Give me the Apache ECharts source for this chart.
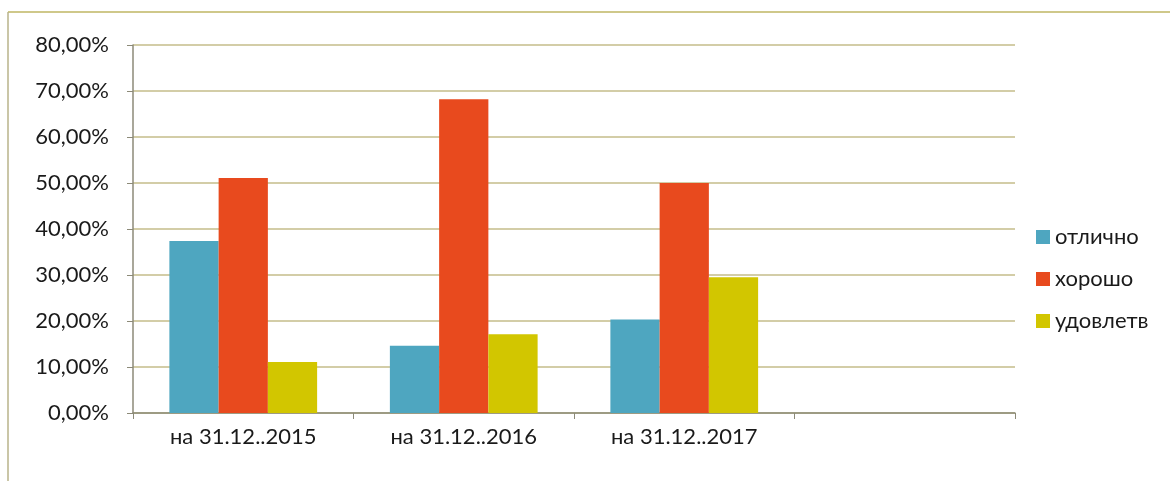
<!DOCTYPE html>
<html><head><meta charset="utf-8">
<script src="https://cdn.jsdelivr.net/npm/echarts@6/dist/echarts.min.js"></script>
<style>html,body{margin:0;padding:0;background:#fff}#c{width:1170px;height:481px}</style>
</head><body><div id="c"></div>
<script>
const categories = ['на 31.12..2015', 'на 31.12..2016', 'на 31.12..2017', ''];
const otlichno = [37.4, 14.6, 20.3, null];
const horosho = [51.1, 68.2, 50.0, null];
const udovletv = [11.1, 17.1, 29.5, null];
const seriesNames = ['отлично', 'хорошо', 'удовлетв'];
const colors = ['#4ea6c0', '#e84a1e', '#d2c600'];

const chart = echarts.init(document.getElementById('c'));
const font = 'Lato, "Open Sans", sans-serif';
const mk = (name, data, color) => ({
  name, type: 'bar', data, barGap: '0%', barCategoryGap: '33%',
  itemStyle: { color }
});
chart.setOption({
  animation: false,
  textStyle: { fontFamily: font },
  grid: { left: 133, right: 155, top: 45, bottom: 68, containLabel: false },
  legend: {
    orient: 'vertical', left: 1031, top: 221, itemGap: 20,
    itemWidth: 14, itemHeight: 14, icon: 'rect',
    textStyle: { fontSize: 22, color: '#1a1a1a', fontFamily: font },
    data: seriesNames
  },
  xAxis: {
    type: 'category', data: categories,
    axisLine: { lineStyle: { color: '#8c8a78', width: 1.5 } },
    axisTick: { show: true, length: 6, lineStyle: { color: '#8c8a78' } },
    axisLabel: { fontSize: 22, color: '#1a1a1a', margin: 13, fontFamily: font }
  },
  yAxis: {
    type: 'value', min: 0, max: 80, interval: 10,
    axisLine: { show: true, lineStyle: { color: '#8c8a78', width: 1.5 } },
    axisTick: { show: true, length: 6, lineStyle: { color: '#8c8a78' } },
    splitLine: { lineStyle: { color: '#c4bd8a', width: 1.5 } },
    axisLabel: {
      fontSize: 22, color: '#1a1a1a', margin: 24, fontFamily: font,
      formatter: v => v.toFixed(2).replace('.', ',') + '%'
    }
  },
  series: [
    mk(seriesNames[0], otlichno, colors[0]),
    mk(seriesNames[1], horosho, colors[1]),
    mk(seriesNames[2], udovletv, colors[2])
  ],
  graphic: [
    { type: 'line', shape: { x1: 8, y1: 12, x2: 1170, y2: 12 }, style: { stroke: '#cfc88a', lineWidth: 2 } },
    { type: 'line', shape: { x1: 8, y1: 12, x2: 8, y2: 481 }, style: { stroke: '#b9b38a', lineWidth: 1.5 } }
  ]
});
</script></body></html>
